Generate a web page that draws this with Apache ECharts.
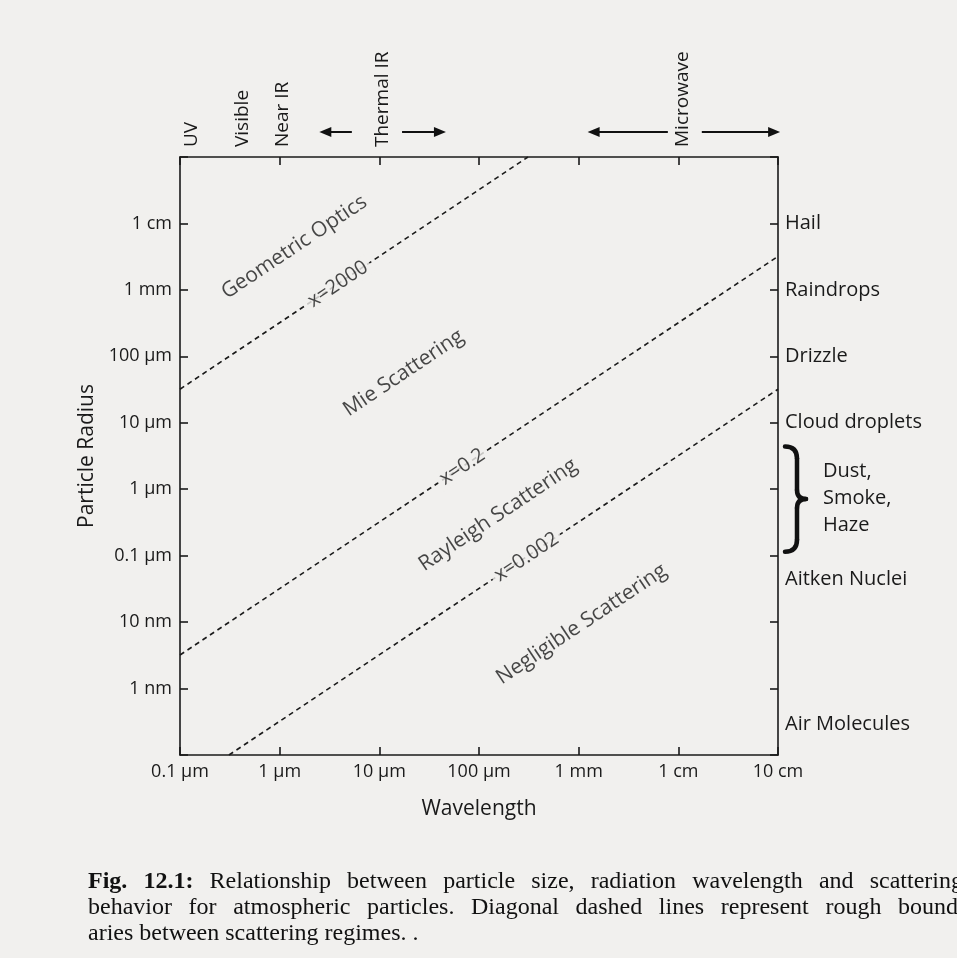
<!DOCTYPE html>
<html>
<head>
<meta charset="utf-8">
<style>
html, body { margin: 0; padding: 0; background: #f1f0ee; }
#chart { width: 957px; height: 958px; }
</style>
<script src="https://cdn.jsdelivr.net/npm/echarts@6/dist/echarts.min.js"></script>
</head>
<body>
<div id="chart"></div>
<script>
// Axis ticks (metres) and their labels
var wavelengthTicks = [1e-7, 1e-6, 1e-5, 1e-4, 1e-3, 1e-2, 1e-1];
var wavelengthLabels = ['0.1 µm', '1 µm', '10 µm', '100 µm', '1 mm', '1 cm', '10 cm'];
var radiusTicks = [1e-9, 1e-8, 1e-7, 1e-6, 1e-5, 1e-4, 1e-3, 1e-2];
var radiusLabels = ['1 nm', '10 nm', '0.1 µm', '1 µm', '10 µm', '100 µm', '1 mm', '1 cm'];

// Particle types on the right side
var particleNames = ['Hail', 'Raindrops', 'Drizzle', 'Cloud droplets'];
var particleRadius = [1e-2, 1e-3, 1e-4, 1e-5];
var otherParticles = ['Aitken Nuclei', 'Air Molecules'];
var otherRadius = [4.4e-8, 2.9e-10];
var aerosolText = 'Dust,\nSmoke,\nHaze';
var aerosolRadius = 7.4e-7;
var braceRadius = [4.4e-6, 1.15e-7];

// Size parameter boundaries: [wavelength, radius] endpoints
var boundaryNames = ['x=2000', 'x=0.2', 'x=0.002'];
var boundaryStart = [[1e-7, 3.2e-5], [1e-7, 3.2e-9], [3.1e-7, 1e-10]];
var boundaryEnd = [[3.1e-4, 1e-1], [1e-1, 3.2e-3], [1e-1, 3.2e-5]];
var boundaryLabelAt = [[3.85e-6, 1.22e-3], [6.8e-5, 2.16e-6], [3.0e-4, 9.5e-8]];

// Scattering regimes
var regimeNames = ['Geometric Optics', 'Mie Scattering', 'Rayleigh Scattering', 'Negligible Scattering'];
var regimeAt = [[1.4e-6, 4.4e-3], [1.75e-5, 5.6e-5], [1.55e-4, 4.1e-7], [1.07e-3, 9.3e-9]];

// Spectral bands across the top
var bandNames = ['UV', 'Visible', 'Near IR', 'Thermal IR', 'Microwave'];
var bandCenter = [1.32e-7, 4.2e-7, 1.07e-6, 1.07e-5, 1.1e-2];
var bandArrows = [[5.3e-6, 2.5e-6], [1.69e-5, 4.66e-5], [7.85e-3, 1.23e-3], [1.72e-2, 1.05e-1]];

// Caption: [bold lead, text, justified right edge or 0]
var caption = [
    ['Fig. 12.1:', 'Relationship between particle size, radiation wavelength and scattering', 963],
    ['', 'behavior for atmospheric particles. Diagonal dashed lines represent rough bound', 958],
    ['', 'aries between scattering regimes. .', 0]
];

var BG = '#f1f0ee';
var INK = '#1a1a1a';
var FONT = '"Open Sans", sans-serif';
var SERIF = '"Liberation Serif", serif';
var CAPTION_SIZE = 24;

function lg(v) { return Math.log10(v); }

function tickLabel(ticks, labels) {
    return function (value) {
        for (var i = 0; i < ticks.length; i++) {
            if (Math.abs(lg(ticks[i]) - value) < 1e-6) return labels[i];
        }
        return '';
    };
}

var chart = echarts.init(document.getElementById('chart'));

var axisCommon = {
    type: 'value',
    interval: 1,
    splitLine: { show: false },
    axisLine: { show: true, lineStyle: { color: INK, width: 1.6 } },
    axisTick: { show: true, inside: true, length: 8, lineStyle: { color: INK, width: 1.6 } }
};

var series = [];
for (var i = 0; i < boundaryNames.length; i++) {
    series.push({
        name: boundaryNames[i],
        type: 'line',
        symbol: 'none',
        silent: true,
        lineStyle: { color: INK, width: 1.6, type: [5, 4] },
        data: [
            [lg(boundaryStart[i][0]), lg(boundaryStart[i][1])],
            [lg(boundaryEnd[i][0]), lg(boundaryEnd[i][1])]
        ],
        z: 2
    });
}

// Labels sitting on the dashed lines
series.push({
    type: 'scatter',
    symbolSize: 0,
    silent: true,
    z: 5,
    data: boundaryNames.map(function (n, i) {
        return { name: n, value: [lg(boundaryLabelAt[i][0]), lg(boundaryLabelAt[i][1])] };
    }),
    label: {
        show: true, position: 'inside', formatter: '{b}', rotate: 33.7,
        color: INK, fontSize: 20, fontFamily: FONT,
        backgroundColor: BG, padding: [0, 4]
    }
});

// Regime names
series.push({
    type: 'scatter',
    symbolSize: 0,
    silent: true,
    z: 5,
    data: regimeNames.map(function (n, i) {
        return { name: n, value: [lg(regimeAt[i][0]), lg(regimeAt[i][1])] };
    }),
    label: {
        show: true, position: 'inside', formatter: '{b}', rotate: 33.7,
        color: INK, fontSize: 21, fontFamily: FONT
    }
});

var option = {
    backgroundColor: BG,
    animation: false,
    grid: { left: 180, right: 179, top: 157, bottom: 203 },
    xAxis: [
        echarts.util.merge({
            position: 'bottom', min: -7, max: -1,
            name: 'Wavelength', nameLocation: 'middle', nameGap: 44,
            nameTextStyle: { fontSize: 21, color: INK, fontFamily: FONT },
            axisLabel: {
                formatter: tickLabel(wavelengthTicks, wavelengthLabels),
                color: INK, fontSize: 18, fontFamily: FONT, margin: 8
            }
        }, axisCommon, true),
        echarts.util.merge({
            position: 'top', min: -7, max: -1,
            axisLabel: { show: false }
        }, axisCommon, true)
    ],
    yAxis: [
        echarts.util.merge({
            position: 'left', min: -10, max: -1,
            name: 'Particle Radius', nameLocation: 'middle', nameGap: 78, nameRotate: 90,
            nameTextStyle: { fontSize: 21, color: INK, fontFamily: FONT },
            axisLabel: {
                formatter: tickLabel(radiusTicks, radiusLabels),
                color: INK, fontSize: 18, fontFamily: FONT, margin: 8
            }
        }, axisCommon, true),
        echarts.util.merge({
            position: 'right', min: -10, max: -1,
            axisLabel: {
                formatter: tickLabel(particleRadius, particleNames),
                color: INK, fontSize: 20, fontFamily: FONT, margin: 7
            }
        }, axisCommon, true)
    ],
    series: series
};

chart.setOption(option);

// Annotations outside the plot area, anchored on the axes
function px(w, r) { return chart.convertToPixel({ gridIndex: 0 }, [lg(w), lg(r)]); }

var graphic = [];
var xRight = px(1e-1, 1e-1)[0];
var yTop = px(1e-1, 1e-1)[1];

otherParticles.forEach(function (n, i) {
    graphic.push({
        type: 'text', x: xRight + 7, y: px(1e-1, otherRadius[i])[1],
        style: { text: n, fill: INK, fontSize: 20, fontFamily: FONT, align: 'left', verticalAlign: 'middle' }
    });
});

graphic.push({
    type: 'text', x: xRight + 45, y: px(1e-1, aerosolRadius)[1],
    style: { text: aerosolText, fill: INK, fontSize: 20, fontFamily: FONT, lineHeight: 27, align: 'left', verticalAlign: 'middle' }
});

// Curly brace
var bt = px(1e-1, braceRadius[0])[1];
var bb = px(1e-1, braceRadius[1])[1];
var bm = (bt + bb) / 2;
var bx = xRight + 19;
var braceStyle = { fill: null, stroke: '#111', lineWidth: 4.5, lineCap: 'round' };
graphic.push({ type: 'bezierCurve', shape: { x1: bx - 12, y1: bt, cpx1: bx, cpy1: bt, x2: bx, y2: bt + 12 }, style: braceStyle });
graphic.push({ type: 'line', shape: { x1: bx, y1: bt + 12, x2: bx, y2: bm - 9 }, style: braceStyle });
graphic.push({ type: 'bezierCurve', shape: { x1: bx, y1: bm - 9, cpx1: bx, cpy1: bm, x2: bx + 9, y2: bm }, style: braceStyle });
graphic.push({ type: 'bezierCurve', shape: { x1: bx + 9, y1: bm, cpx1: bx, cpy1: bm, x2: bx, y2: bm + 9 }, style: braceStyle });
graphic.push({ type: 'line', shape: { x1: bx, y1: bm + 9, x2: bx, y2: bb - 12 }, style: braceStyle });
graphic.push({ type: 'bezierCurve', shape: { x1: bx, y1: bb - 12, cpx1: bx, cpy1: bb, x2: bx - 12, y2: bb }, style: braceStyle });

// Spectral band names (vertical text)
bandNames.forEach(function (n, i) {
    graphic.push({
        type: 'text', x: px(bandCenter[i], 1e-1)[0], y: yTop - 10, rotation: Math.PI / 2,
        style: { text: n, fill: INK, fontSize: 19, fontFamily: FONT, align: 'left', verticalAlign: 'middle' }
    });
});

// Arrows
var ay = yTop - 25;
bandArrows.forEach(function (a) {
    var x0 = px(a[0], 1e-1)[0];
    var x1 = px(a[1], 1e-1)[0];
    var d = x1 > x0 ? 1 : -1;
    graphic.push({
        type: 'line', shape: { x1: x0, y1: ay, x2: x1 - d * 8, y2: ay },
        style: { stroke: '#111', lineWidth: 2 }
    });
    graphic.push({
        type: 'polygon', shape: { points: [[x1, ay], [x1 - d * 12, ay - 5], [x1 - d * 12, ay + 5]] },
        style: { fill: '#111' }
    });
});

// Caption, justified like the printed page
var ctx = document.createElement('canvas').getContext('2d');
function measure(t, bold) {
    ctx.font = (bold ? 'bold ' : '') + CAPTION_SIZE + 'px "Liberation Serif"';
    return ctx.measureText(t).width;
}
caption.forEach(function (line, i) {
    var words = [];
    if (line[0]) line[0].split(' ').forEach(function (w) { words.push({ t: w, b: true }); });
    line[1].split(' ').forEach(function (w) { words.push({ t: w, b: false }); });
    var total = 0;
    words.forEach(function (w) { w.w = measure(w.t, w.b); total += w.w; });
    var gap = line[2] ? (line[2] - 88 - total) / (words.length - 1) : measure(' ', false);
    var x = 88;
    words.forEach(function (w) {
        graphic.push({
            type: 'text', x: x, y: 882 + i * 26,
            style: {
                text: w.t, fill: '#111', fontFamily: SERIF, fontSize: CAPTION_SIZE,
                fontWeight: w.b ? 'bold' : 'normal', align: 'left', verticalAlign: 'middle'
            }
        });
        x += w.w + gap;
    });
});

chart.setOption({ graphic: graphic });

window.onresize = function () {
    chart.resize();
};
</script>
</body>
</html>
